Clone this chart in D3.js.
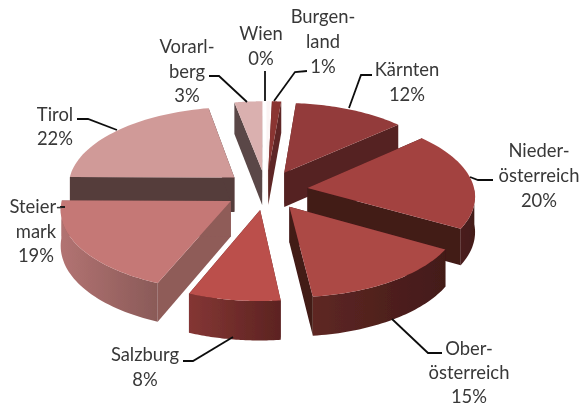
<!DOCTYPE html>
<html><head><meta charset="utf-8">
<script src="https://cdn.jsdelivr.net/npm/d3@7"></script>
<style>html,body{margin:0;background:#fff}svg{display:block}text{font-family:Lato,"Open Sans",sans-serif;font-size:18.4px;fill:#383838;text-anchor:middle}</style>
</head><body><svg id="c" width="582" height="408"></svg>
<script>
const categories=["Burgenland","Kärnten","Niederösterreich","Oberösterreich","Salzburg","Steiermark","Tirol","Vorarlberg","Wien"];
const values=[1,12,20,15,8,19,22,3,0.4];
const labelLines=[["Burgen-","land","1%"],["Kärnten","12%"],["Nieder-","österreich","20%"],["Ober-","österreich","15%"],["Salzburg","8%"],["Steier-","mark","19%"],["Tirol","22%"],["Vorarl-","berg","3%"],["Wien","0%"]];
const topColors=["#8a3533","#933b3a","#a34240","#ac4845","#bb4f4c","#c57876","#d09a98","#dab0af","#fbf4f4"];
const sideColors=["#5e2825","#552322","#431a19","#431a19","#5c2321","#8f5b59","#553c3b","#5a4746","#fbf4f4"];
const wallStart=["#7a3330","#6b2c2a","#5a2522","#5e2723","#843634","#b27372","#6a4a49","#6a5352","#fbf4f4"];
const wallEnd=["#5e2825","#4f2120","#431a19","#431a19","#5c2321","#8a5a58","#4f3736","#5a4746","#fbf4f4"];
const labelCx=[323,407,539,469,145,36,55,187,261];
const labelBase=[23,76,157,355,361,213,121,53,40];
const labelStep=[25,25,25,24,25,24.5,24,24.5,25];
const leaders=[[[307,71],[295,72],[274,101]],[[372,75],[361,75],[349,108]],[[493,180],[478,180],[470,177]],[[442,353],[428,353],[392,319]],[[183,361],[193,361],[233,337]],[[60,207],[65,207]],[[77,119],[88,119],[117,130]],[[209,76],[219,76],[247,102]],[[265,71],[265,101]]];

const Cx=266,Cy=190,Rx=167,Ry=79,persp=0.09,explode=0.25,depth=35;
const rot=1.43*Math.PI/180;
const sx=d3.scaleLinear().domain([-1,1]).range([Cx-Rx,Cx+Rx]);
const sy=d3.scaleLinear().domain([-1,1]).range([Cy-Ry,Cy+Ry]);
const proj=(px,py,drop=0)=>{const s=1/(1-persp*py);return [sx(px*s),sy(py*s)+drop*depth*s];};
const pie=d3.pie().sort(null).value(d=>d.v).startAngle(rot).endAngle(rot+2*Math.PI);
const rows=categories.map((c,i)=>({c,v:values[i],i}));
const arcs=pie(rows).map(a=>{
  const start=a.startAngle,end=a.endAngle,mid=(start+end)/2;
  return {i:a.data.i,start,end,mid,ox:explode*Math.sin(mid),oy:-explode*Math.cos(mid)};
});
const svg=d3.select("#c");
const defs=svg.append("defs");
const f=defs.append("filter").attr("id","soft");
f.append("feGaussianBlur").attr("stdDeviation",0.45);
const g=svg.append("g").attr("filter","url(#soft)");
const line=d3.line();
const order=arcs.slice().sort((a,b)=>Math.cos(b.mid)-Math.cos(a.mid));
order.forEach(a=>{
  const ts=d3.range(0,41).map(k=>a.start+(a.end-a.start)*k/40);
  const pts=ts.map(t=>[a.ox+Math.sin(t),a.oy-Math.cos(t)]);
  const top=pts.map(p=>proj(p[0],p[1]));
  const bot=pts.map(p=>proj(p[0],p[1],1));
  const ap=proj(a.ox,a.oy), apb=proj(a.ox,a.oy,1);
  const sg=g.append("g");
  const gid="w"+a.i;
  const lg=defs.append("linearGradient").attr("id",gid).attr("gradientUnits","userSpaceOnUse")
    .attr("x1",d3.min(top,d=>d[0])).attr("x2",d3.max(top,d=>d[0])).attr("y1",0).attr("y2",0);
  lg.append("stop").attr("offset",0).attr("stop-color",wallStart[a.i]);
  lg.append("stop").attr("offset",1).attr("stop-color",wallEnd[a.i]);
  const side=sideColors[a.i];
  sg.append("path").attr("d",line([ap,top[0],bot[0],apb])+"Z").attr("fill",side);
  sg.append("path").attr("d",line([ap,top[40],bot[40],apb])+"Z").attr("fill",side);
  // only the front-facing part of the rim is visible
  const vis=ts.map((t,k)=>Math.cos(t)<=0?k:-1).filter(k=>k>=0);
  if(vis.length>1){
    const tv=vis.map(k=>top[k]),bv=vis.map(k=>bot[k]).reverse();
    sg.append("path").attr("d",line(tv.concat(bv))+"Z").attr("fill",`url(#${gid})`);
  }
  sg.append("path").attr("d",line([ap].concat(top))+"Z").attr("fill",topColors[a.i]);
});
const lg2=g.append("g");
leaders.forEach(l=>lg2.append("path").attr("d",line(l)).attr("fill","none").attr("stroke","#111").attr("stroke-width",1.8));
const tg=svg.append("g").attr("filter","url(#soft)");
labelLines.forEach((lines,i)=>{
  lines.forEach((t,j)=>tg.append("text").attr("x",labelCx[i]).attr("y",labelBase[i]+j*labelStep[i]).text(t));
});
</script></body></html>
